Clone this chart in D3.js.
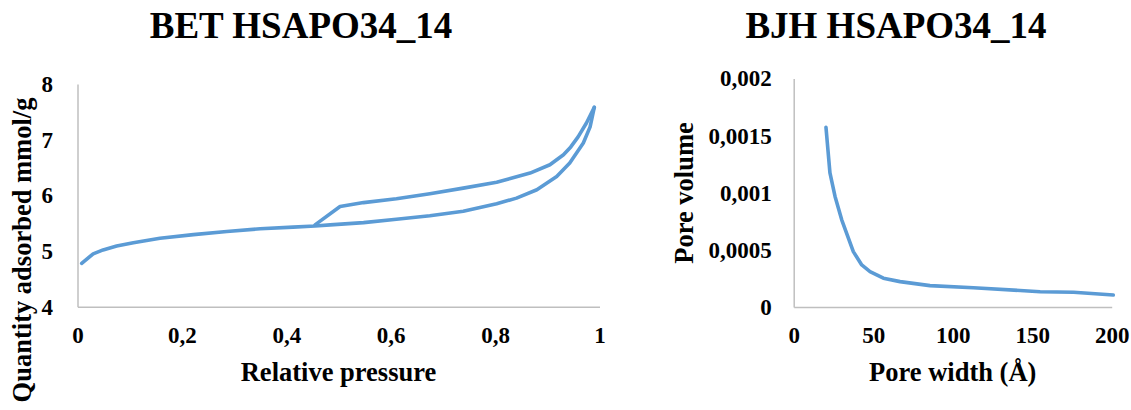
<!DOCTYPE html>
<html>
<head>
<meta charset="utf-8">
<script src="https://cdn.jsdelivr.net/npm/d3@7/dist/d3.min.js"></script>
<style>
  html, body { margin: 0; padding: 0; background: #ffffff; }
  svg { display: block; }
  text { font-family: "Liberation Serif", "Times New Roman", serif; font-weight: bold; fill: #000; }
</style>
</head>
<body>
<svg id="chart" width="1131" height="410"></svg>
<script>
// BET isotherm: adsorption branch (rising pressure)
const betPressureAds = [0.008, 0.030, 0.049, 0.075, 0.107, 0.158, 0.222, 0.286, 0.350, 0.413, 0.455, 0.484, 0.548, 0.611, 0.675, 0.739, 0.803, 0.841, 0.880, 0.918, 0.943, 0.969, 0.982, 0.990];
const betQuantityAds = [4.78, 4.95, 5.02, 5.09, 5.15, 5.23, 5.295, 5.35, 5.40, 5.43, 5.45, 5.47, 5.51, 5.57, 5.635, 5.715, 5.85, 5.95, 6.10, 6.34, 6.58, 6.94, 7.23, 7.58];
// BET isotherm: desorption branch (falling pressure)
const betPressureDes = [0.990, 0.975, 0.959, 0.945, 0.931, 0.905, 0.867, 0.803, 0.739, 0.675, 0.611, 0.548, 0.503, 0.455];
const betQuantityDes = [7.58, 7.30, 7.05, 6.87, 6.73, 6.55, 6.40, 6.235, 6.13, 6.03, 5.94, 5.87, 5.80, 5.47];

// BJH pore size distribution
const bjhWidth = [20.3, 22.8, 26.0, 30.2, 37.5, 42.8, 48.0, 56.4, 66.9, 85.7, 113, 155, 176, 201];
const bjhVolume = [0.001573, 0.001173, 0.000968, 0.000763, 0.000485, 0.000368, 0.00031, 0.000252, 0.000222, 0.000187, 0.000169, 0.000134, 0.000129, 0.000105];

// Axis ticks and their labels (comma decimal separator)
const betXTicks = [0, 0.2, 0.4, 0.6, 0.8, 1];
const betXTickLabels = ["0", "0,2", "0,4", "0,6", "0,8", "1"];
const betYTicks = [4, 5, 6, 7, 8];
const betYTickLabels = ["4", "5", "6", "7", "8"];
const bjhXTicks = [0, 50, 100, 150, 200];
const bjhXTickLabels = ["0", "50", "100", "150", "200"];
const bjhYTicks = [0, 0.0005, 0.001, 0.0015, 0.002];
const bjhYTickLabels = ["0", "0,0005", "0,001", "0,0015", "0,002"];

const svg = d3.select("#chart");
const lineColor = "#5B9BD5";
const axisColor = "#BFBFBF";
const tickFont = 23;

function drawAxes(g, x, y, xTicks, xLabels, yTicks, yLabels, xPad, yPad) {
  const [y0] = y.range();
  const [x0] = x.range();
  const xa = g.append("g")
    .attr("transform", `translate(0,${y0})`)
    .call(d3.axisBottom(x).tickValues(xTicks).tickFormat((d, i) => xLabels[i])
      .tickSize(0).tickSizeOuter(0).tickPadding(xPad));
  const ya = g.append("g")
    .attr("transform", `translate(${x0},0)`)
    .call(d3.axisLeft(y).tickValues(yTicks).tickFormat((d, i) => yLabels[i])
      .tickSize(0).tickSizeOuter(0).tickPadding(yPad));
  [xa, ya].forEach(a => {
    a.select(".domain").attr("stroke", axisColor).attr("stroke-width", 1.5);
    a.selectAll("text")
      .attr("font-family", "Liberation Serif, Times New Roman, serif")
      .attr("font-weight", "bold")
      .attr("font-size", tickFont)
      .attr("fill", "#000");
  });
}

function drawLine(g, x, y, xs, ys) {
  const pts = xs.map((v, i) => [v, ys[i]]);
  g.append("path")
    .datum(pts)
    .attr("fill", "none")
    .attr("stroke", lineColor)
    .attr("stroke-width", 3.6)
    .attr("stroke-linejoin", "round")
    .attr("stroke-linecap", "round")
    .attr("d", d3.line().x(d => x(d[0])).y(d => y(d[1])));
}

// ---- BET panel ----
const betX = d3.scaleLinear().domain([0, 1]).range([77.5, 599.5]);
const betY = d3.scaleLinear().domain([4, 8]).range([306.7, 84]);
const betG = svg.append("g");
drawAxes(betG, betX, betY, betXTicks, betXTickLabels, betYTicks, betYTickLabels, 20, 24.5);
drawLine(betG, betX, betY, betPressureAds, betQuantityAds);
drawLine(betG, betX, betY, betPressureDes, betQuantityDes);

betG.append("text").attr("x", 301).attr("y", 38).attr("text-anchor", "middle")
  .attr("font-size", 37).text("BET HSAPO34_14");
betG.append("text").attr("x", 338.5).attr("y", 381).attr("text-anchor", "middle")
  .attr("font-size", 26.5).text("Relative pressure");
betG.append("text").attr("transform", "translate(31,250) rotate(-90)").attr("text-anchor", "middle")
  .attr("font-size", 26.5).text("Quantity adsorbed mmol/g");

// ---- BJH panel ----
const bjhX = d3.scaleLinear().domain([0, 200]).range([793.7, 1111.7]);
const bjhY = d3.scaleLinear().domain([0, 0.002]).range([307, 78.5]);
const bjhG = svg.append("g");
drawAxes(bjhG, bjhX, bjhY, bjhXTicks, bjhXTickLabels, bjhYTicks, bjhYTickLabels, 19.7, 22);
drawLine(bjhG, bjhX, bjhY, bjhWidth, bjhVolume);

bjhG.append("text").attr("x", 896).attr("y", 37.5).attr("text-anchor", "middle")
  .attr("font-size", 37).text("BJH HSAPO34_14");
bjhG.append("text").attr("x", 952.7).attr("y", 381).attr("text-anchor", "middle")
  .attr("font-size", 26.5).text("Pore width (Å)");
bjhG.append("text").attr("transform", "translate(693,193) rotate(-90)").attr("text-anchor", "middle")
  .attr("font-size", 26.5).text("Pore volume");
</script>
</body>
</html>
